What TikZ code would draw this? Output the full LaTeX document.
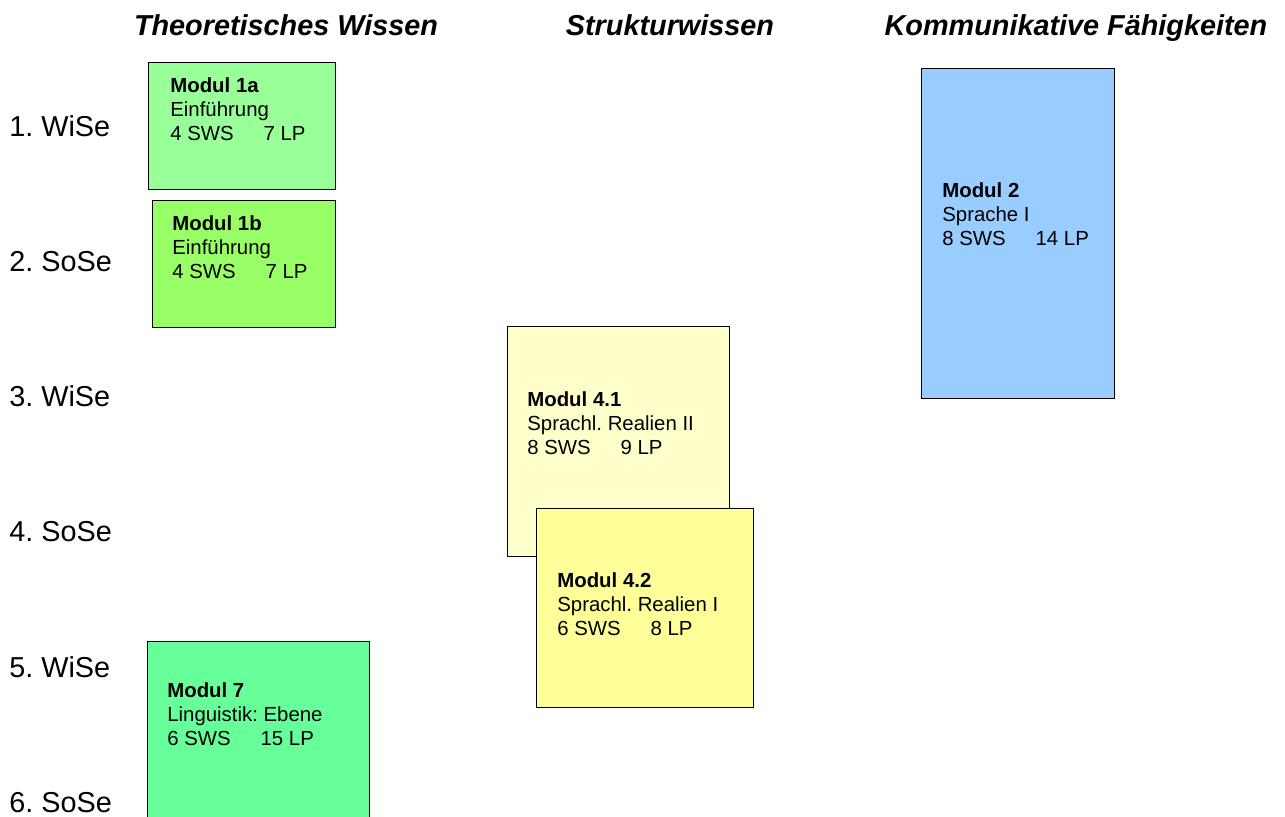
\documentclass[tikz,border=0pt]{standalone}
\usepackage{fontspec}
\setmainfont{Liberation Sans}
\frenchspacing
\definecolor{gruenA}{HTML}{99FF99}
\definecolor{gruenB}{HTML}{99FF66}
\definecolor{gruenC}{HTML}{66FF99}
\definecolor{gelbA}{HTML}{FFFFCC}
\definecolor{gelbB}{HTML}{FFFF99}
\definecolor{blauA}{HTML}{99CCFF}
\begin{document}
\begin{tikzpicture}[x=0.02cm,y=-0.02cm,
  modbox/.style={draw,line width=0.6pt,anchor=north west,inner sep=0pt},
  modtext/.style={anchor=north west,inner sep=0pt,align=left,
    font=\fontsize{11.6}{13.9}\selectfont},
  semester/.style={anchor=base west,inner sep=0pt,font=\fontsize{16.4}{19}\selectfont},
  bereich/.style={anchor=base,inner sep=0pt,font=\fontsize{16.4}{19}\selectfont\bfseries\itshape}]
\useasboundingbox (0,0) rectangle (1285,816);
% Spaltenkoepfe
\node[bereich] (theorie) at (286,35.5) {Theoretisches Wissen};
\node[bereich] (struktur) at (670,35.5) {Strukturwissen};
\node[bereich] (kommunikation) at (1076,35.5) {Kommunikative Fähigkeiten};
% Semester
\node[semester] (s1) at (9,136) {1. WiSe};
\node[semester] (s2) at (9,271) {2. SoSe};
\node[semester] (s3) at (9,406) {3. WiSe};
\node[semester] (s4) at (9,541) {4. SoSe};
\node[semester] (s5) at (9,677) {5. WiSe};
\node[semester] (s6) at (9,812) {6. SoSe};
% Module
\node[modbox,fill=gruenA,minimum width=3.74cm,minimum height=2.54cm] (m1a) at (148,62) {};
\node[modtext] (t1a) at (170,77) {\textbf{Modul 1a}\\Einführung\\4 SWS\hspace{17pt}7 LP};
\node[modbox,fill=gruenB,minimum width=3.66cm,minimum height=2.54cm] (m1b) at (152,200) {};
\node[modtext] (t1b) at (172,215) {\textbf{Modul 1b}\\Einführung\\4 SWS\hspace{17pt}7 LP};
\node[modbox,fill=gelbA,minimum width=4.44cm,minimum height=4.6cm] (m41) at (507,326) {};
\node[modtext] (t41) at (527,391) {\textbf{Modul 4.1}\\Sprachl. Realien II\\8 SWS\hspace{17pt}9 LP};
\node[modbox,fill=gelbB,minimum width=4.34cm,minimum height=3.98cm] (m42) at (536,508) {};
\node[modtext] (t42) at (557,572) {\textbf{Modul 4.2}\\Sprachl. Realien I\\6 SWS\hspace{17pt}8 LP};
\node[modbox,fill=gruenC,minimum width=4.44cm,minimum height=4cm] (m7) at (147,641) {};
\node[modtext] (t7) at (167,682) {\textbf{Modul 7}\\Linguistik: Ebene\\6 SWS\hspace{17pt}15 LP};
\node[modbox,fill=blauA,minimum width=3.86cm,minimum height=6.6cm] (m2) at (921,68) {};
\node[modtext] (t2) at (942,182) {\textbf{Modul 2}\\Sprache I\\8 SWS\hspace{17pt}14 LP};
\end{tikzpicture}
\end{document}
